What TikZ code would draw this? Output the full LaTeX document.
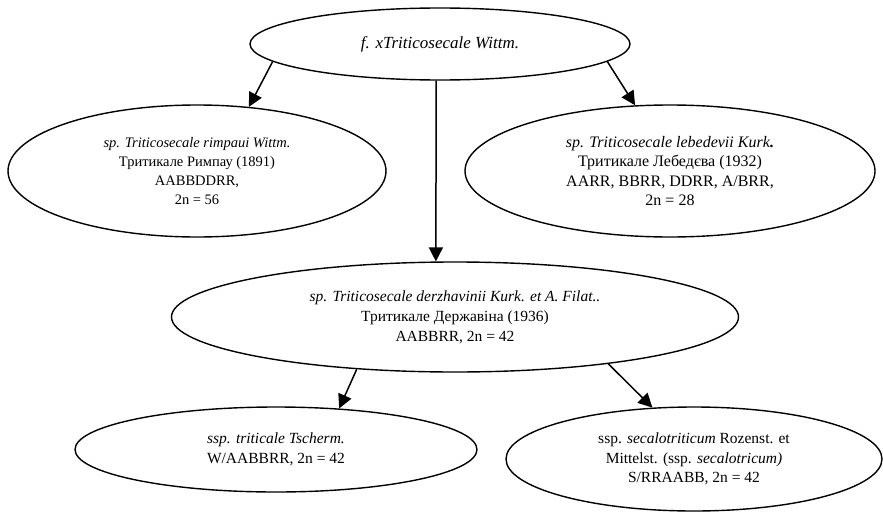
\documentclass[tikz,border=0pt]{standalone}
\usepackage{fontspec}
\setmainfont{Liberation Serif}
\usetikzlibrary{shapes.geometric,arrows.meta}
\tikzset{
  oval/.style={ellipse, draw, line width=1.4pt, inner sep=0pt, align=center,
    font=\fontsize{14.5}{19}\selectfont},
  arr/.style={line width=1.5pt, -{Triangle[length=14pt,width=14pt]}}
}
\begin{document}
\begin{tikzpicture}[x=1pt,y=-1pt]
\useasboundingbox (0,0) rectangle (883,514);
\node[oval, minimum width=380pt, minimum height=72pt, font=\fontsize{17}{20}\selectfont] (top) at (440,44)
  {\textit{f. xTriticosecale Wittm.}};
\node[oval, minimum width=378pt, minimum height=132pt] (rim) at (197,171)
  {\textit{sp. Triticosecale rimpaui Wittm.}\\Тритикале Римпау (1891)\\AABBDDRR,\\2n = 56};
\node[oval, minimum width=410pt, minimum height=132pt, font=\fontsize{16}{19.5}\selectfont] (leb) at (670,171)
  {\textit{sp. Triticosecale lebedevii Kurk}\textbf{\textit{.}}\\Тритикале Лебедєва (1932)\\AARR, BBRR, DDRR, A/BRR,\\2n = 28};
\node[oval, minimum width=567pt, minimum height=110pt, font=\fontsize{15.5}{20}\selectfont] (der) at (455,317)
  {\textit{sp. Triticosecale derzhavinii Kurk. et A. Filat..}\\Тритикале Державіна (1936)\\AABBRR, 2n = 42};
\node[oval, minimum width=402pt, minimum height=85pt, font=\fontsize{15.5}{19.5}\selectfont] (tri) at (276,449.5)
  {\textit{ssp. triticale Tscherm.}\\W/AABBRR, 2n = 42};
\node[oval, minimum width=376pt, minimum height=104pt, font=\fontsize{15.5}{19.5}\selectfont] (sec) at (694,459)
  {ssp. \textit{secalotriticum} Rozenst. et\\Mittelst. (ssp. \textit{secalotricum)}\\S/RRAABB, 2n = 42};
\draw[arr] (top.186.5) -- (rim.51.5);
\draw[arr] (top.354) -- (leb.118.3);
\draw[arr] (top.264) -- (der.109);
\draw[arr] (der.208.6) -- (tri.33.8);
\draw[arr] (der.343.5) -- (sec.129.2);
\end{tikzpicture}
\end{document}
